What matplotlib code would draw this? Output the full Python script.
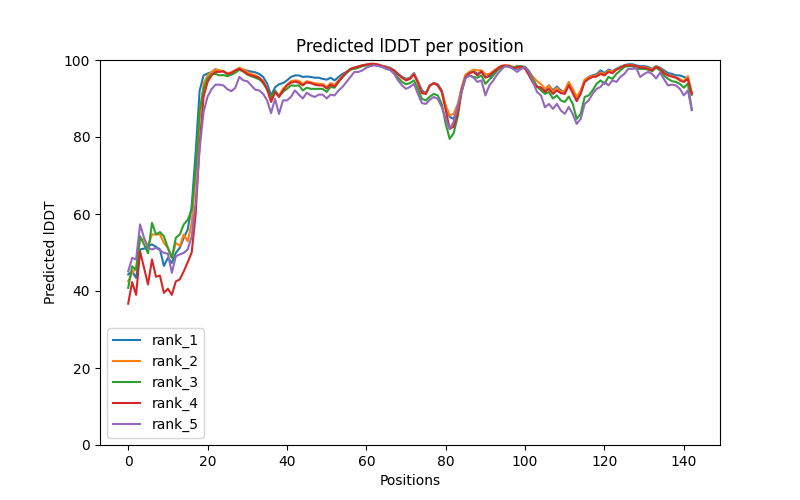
import matplotlib
matplotlib.use("Agg")
import matplotlib.pyplot as plt

# per-position predicted lDDT for the five ranked models
rank_1 = [44.3, 45.1, 43.4, 50.8, 51.0, 51.7, 52.1, 51.5, 50.8, 46.5,
          48.6, 47.3, 49.9, 51.2, 53.8, 56.0, 62.0, 76.0, 92.0, 96.0,
          96.5, 96.8, 97.6, 97.2, 97.0, 96.4, 96.7, 97.3, 97.8, 97.5,
          97.2, 97.0, 96.8, 96.4, 95.6, 93.9, 90.8, 92.9, 93.7, 94.0,
          94.7, 95.6, 96.0, 96.0, 95.6, 95.7, 95.6, 95.4, 95.4, 95.1,
          94.9, 95.4, 94.7, 95.6, 96.4, 96.9, 97.5, 98.0, 98.3, 98.6,
          98.7, 98.8, 98.8, 98.7, 98.5, 98.3, 98.0, 97.3, 96.4, 95.6,
          95.1, 95.4, 96.6, 94.5, 92.1, 91.4, 93.4, 94.0, 93.7, 92.1,
          87.8, 85.2, 84.7, 87.8, 92.5, 96.0, 96.9, 97.1, 96.4, 96.9,
          95.6, 95.7, 96.4, 97.5, 98.2, 98.4, 98.4, 98.0, 97.7, 98.0,
          98.0, 96.6, 94.7, 93.1, 92.8, 92.1, 93.4, 92.1, 93.1, 92.1,
          91.7, 93.8, 92.1, 89.7, 91.7, 94.7, 95.6, 96.0, 96.3, 97.3,
          96.6, 97.5, 97.1, 97.7, 98.2, 98.6, 98.9, 98.9, 98.6, 98.4,
          98.4, 98.2, 97.7, 98.4, 98.0, 97.3, 96.6, 96.4, 96.0, 96.0,
          95.6, 95.1, 91.0]

rank_2 = [42.5, 44.7, 46.0, 53.4, 53.4, 51.7, 54.7, 54.7, 54.7, 52.5,
          51.2, 48.6, 52.5, 51.7, 54.7, 52.9, 57.7, 70.0, 85.0, 93.8,
          96.0, 96.9, 97.5, 97.3, 97.1, 96.4, 96.9, 97.3, 98.0, 97.5,
          96.9, 96.4, 96.0, 95.4, 94.5, 92.5, 89.5, 91.6, 90.8, 92.5,
          93.6, 94.5, 94.7, 94.6, 93.8, 94.5, 94.2, 94.0, 93.8, 93.8,
          93.0, 94.0, 93.5, 94.8, 95.8, 96.8, 97.6, 98.0, 98.3, 98.6,
          98.8, 99.0, 99.0, 98.8, 98.4, 98.2, 97.8, 97.3, 96.2, 95.4,
          94.8, 95.2, 96.4, 94.3, 91.5, 91.3, 93.3, 94.0, 93.4, 91.8,
          88.2, 85.6, 86.0, 88.5, 92.8, 96.2, 96.9, 97.5, 97.3, 97.3,
          96.3, 96.4, 97.1, 97.9, 98.5, 98.6, 98.6, 98.2, 98.0, 98.2,
          98.2, 96.9, 95.6, 94.5, 93.7, 92.5, 93.4, 91.7, 92.8, 91.7,
          92.1, 94.3, 92.5, 90.4, 92.1, 94.9, 95.5, 95.8, 96.0, 96.8,
          96.3, 97.2, 97.0, 97.5, 98.0, 98.5, 98.7, 98.7, 98.4, 98.1,
          98.1, 97.9, 97.5, 98.3, 97.8, 96.8, 96.1, 95.8, 95.5, 95.0,
          94.5, 95.8, 91.5]

rank_3 = [40.8, 46.4, 45.5, 54.2, 52.1, 49.8, 57.7, 54.7, 55.3, 54.2,
          51.2, 48.6, 53.8, 54.7, 57.3, 58.5, 61.0, 72.0, 87.0, 92.5,
          95.2, 96.3, 96.4, 96.0, 96.1, 95.8, 96.2, 96.7, 97.5, 97.0,
          96.2, 95.8, 95.4, 95.0, 94.0, 92.3, 90.4, 92.1, 90.6, 91.7,
          92.5, 93.4, 93.3, 93.4, 92.1, 92.8, 92.5, 92.5, 92.5, 92.5,
          91.7, 93.0, 92.8, 94.3, 95.6, 96.6, 97.5, 97.7, 98.0, 98.4,
          98.6, 98.9, 98.9, 98.6, 98.2, 97.7, 97.5, 96.6, 95.4, 94.3,
          93.7, 94.0, 94.7, 92.5, 89.9, 89.5, 90.5, 91.2, 90.8, 88.6,
          83.4, 79.5, 81.0, 85.2, 91.7, 95.4, 96.0, 95.6, 95.4, 96.0,
          93.8, 94.9, 96.0, 97.3, 98.2, 98.4, 98.4, 98.0, 98.4, 98.4,
          98.2, 97.1, 95.0, 93.1, 92.1, 91.2, 91.7, 90.0, 90.8, 89.5,
          89.1, 90.5, 88.6, 84.7, 86.0, 90.4, 90.8, 92.1, 93.8, 94.7,
          93.8, 95.6, 95.1, 96.4, 97.3, 98.2, 98.4, 98.4, 97.7, 97.7,
          97.7, 97.5, 97.1, 98.0, 97.3, 96.0, 95.1, 94.5, 94.3, 93.8,
          92.8, 93.9, 87.0]

rank_4 = [36.7, 42.3, 39.0, 50.3, 46.0, 41.7, 48.2, 43.7, 44.0, 39.5,
          40.6, 39.0, 42.5, 43.0, 45.1, 47.5, 50.0, 60.0, 78.0, 90.5,
          94.3, 96.0, 96.9, 96.9, 97.1, 96.4, 96.6, 97.3, 97.7, 97.1,
          96.4, 96.0, 95.7, 95.4, 94.3, 92.5, 89.1, 91.7, 90.4, 92.1,
          93.4, 94.1, 94.4, 94.1, 93.4, 94.2, 94.0, 93.6, 93.4, 93.4,
          92.6, 93.6, 93.1, 94.4, 95.6, 96.8, 97.7, 98.0, 98.3, 98.6,
          98.8, 99.0, 99.0, 98.8, 98.4, 98.0, 97.7, 97.3, 96.3, 95.4,
          94.7, 95.1, 96.3, 94.0, 91.4, 91.2, 93.4, 94.0, 93.4, 91.7,
          87.0, 82.1, 82.7, 86.0, 92.1, 95.6, 96.6, 96.9, 96.0, 97.1,
          95.4, 96.0, 96.9, 97.7, 98.4, 98.6, 98.4, 97.7, 98.2, 98.2,
          97.7, 96.0, 94.0, 93.1, 92.8, 91.7, 92.5, 91.2, 92.1, 91.4,
          91.2, 93.4, 91.4, 89.3, 91.2, 94.3, 95.1, 95.6, 95.7, 96.4,
          96.0, 96.9, 96.6, 97.5, 98.0, 98.6, 98.6, 98.6, 98.4, 98.0,
          98.0, 97.7, 97.3, 98.2, 97.7, 96.6, 96.0, 95.7, 95.4, 94.7,
          94.3, 95.1, 91.2]

rank_5 = [45.1, 48.6, 48.2, 57.3, 53.8, 51.2, 50.8, 51.2, 50.6, 49.9,
          49.7, 44.7, 49.0, 49.5, 49.9, 50.8, 54.2, 63.0, 77.0, 86.5,
          90.5, 92.4, 93.6, 93.6, 93.4, 92.4, 91.9, 92.8, 95.6, 94.7,
          94.5, 93.4, 92.3, 92.1, 91.2, 89.5, 86.2, 89.9, 86.0, 89.5,
          89.5, 90.4, 92.1, 91.0, 90.0, 91.5, 90.8, 90.4, 91.0, 91.0,
          90.0, 91.0, 90.8, 92.1, 93.0, 94.3, 95.6, 96.9, 96.9, 97.3,
          98.0, 98.4, 98.6, 98.4, 98.2, 97.7, 97.4, 96.4, 94.7, 93.4,
          92.5, 93.0, 93.8, 91.2, 88.8, 88.6, 89.7, 90.4, 89.9, 87.8,
          84.7, 82.1, 83.9, 87.8, 91.7, 95.3, 96.0, 95.4, 94.3, 94.7,
          90.8, 93.4, 94.7, 96.3, 97.5, 98.4, 98.2, 97.7, 96.9, 97.7,
          98.2, 96.9, 94.3, 91.7, 90.8, 87.7, 88.6, 87.3, 88.6, 86.9,
          86.0, 87.8, 86.0, 83.4, 84.7, 88.6, 89.5, 91.2, 92.5, 93.0,
          94.3, 93.4, 94.7, 94.3, 95.6, 96.4, 97.7, 97.7, 97.9, 95.6,
          96.4, 96.9, 96.4, 95.2, 96.7, 95.0, 93.4, 93.6, 93.4, 92.5,
          90.8, 92.1, 87.0]

labels = ["rank_1", "rank_2", "rank_3", "rank_4", "rank_5"]
series = [rank_1, rank_2, rank_3, rank_4, rank_5]

fig = plt.figure(figsize=(8, 5), dpi=100)
plt.title("Predicted lDDT per position")
for name, vals in zip(labels, series):
    plt.plot(range(len(vals)), vals, label=name)
plt.legend()
plt.ylim(0, 100)
plt.ylabel("Predicted lDDT")
plt.xlabel("Positions")
plt.savefig("out.png", dpi=100)
